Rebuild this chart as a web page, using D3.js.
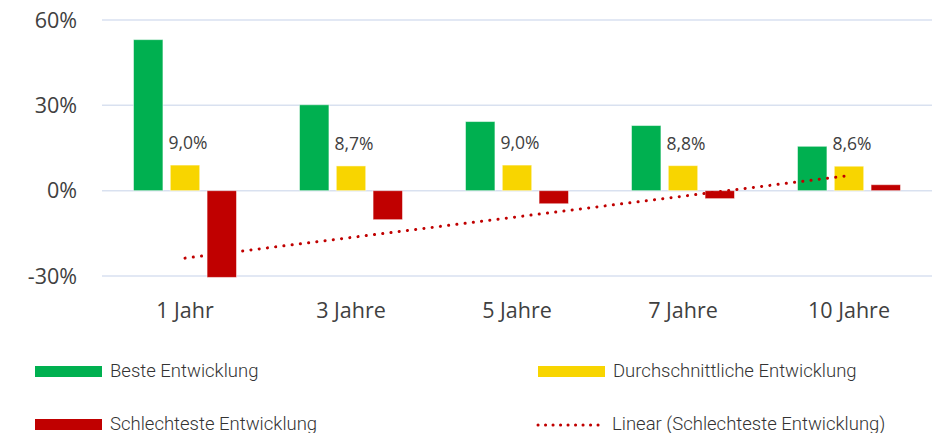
<!DOCTYPE html>
<html lang="de">
<head>
<meta charset="UTF-8">
<title>Entwicklung</title>
<script src="https://d3js.org/d3.v7.min.js"></script>
<style>
  body { margin: 0; background: #fff; }
  svg { display: block; }
</style>
</head>
<body>
<div id="chart"></div>
<script>
const categories = ["1 Jahr", "3 Jahre", "5 Jahre", "7 Jahre", "10 Jahre"];
const best = [53.1, 30.2, 24.3, 22.9, 15.6];
const average = [9.0, 8.7, 9.0, 8.8, 8.6];
const worst = [-30.5, -10.2, -4.6, -2.8, 2.1];
const yTicks = [-30, 0, 30, 60];
const seriesNames = ["Beste Entwicklung", "Durchschnittliche Entwicklung", "Schlechteste Entwicklung"];
const colors = ["#00b050", "#f8d500", "#c00000"];

const width = 943, height = 433;
const svg = d3.select("#chart").append("svg")
  .attr("width", width).attr("height", height);

const x = d3.scaleBand().domain(categories).range([102, 932]);
const y = d3.scaleLinear().domain([-30, 60]).range([276, 20]);

// gridlines
svg.append("g").selectAll("line").data(yTicks).join("line")
  .attr("x1", 102).attr("x2", 932)
  .attr("y1", d => y(d)).attr("y2", d => y(d))
  .attr("stroke", "#d9e1f0").attr("stroke-width", 1.5);

// y labels
svg.append("g").selectAll("text").data(yTicks).join("text")
  .attr("x", 77).attr("y", d => y(d)).attr("dy", "0.35em")
  .attr("text-anchor", "end")
  .style("font", "21.5px 'Open Sans', sans-serif").attr("fill", "#404040")
  .text(d => d + "%");

// category labels
svg.append("g").selectAll("text").data(categories).join("text")
  .attr("x", d => x(d) + x.bandwidth() / 2).attr("y", 310).attr("dy", "0.35em")
  .attr("text-anchor", "middle")
  .style("font", "21.5px 'Open Sans', sans-serif").attr("fill", "#404040")
  .text(d => d);

// bars
const inner = d3.scaleBand().domain([0, 1, 2]).range([0, 103]).paddingInner(0.2);
const series = [best, average, worst];
series.forEach((vals, s) => {
  svg.append("g").selectAll("rect").data(vals).join("rect")
    .attr("x", (d, i) => x(categories[i]) + (x.bandwidth() - 103) / 2 + inner(s))
    .attr("width", inner.bandwidth())
    .attr("y", d => y(Math.max(0, d)))
    .attr("height", d => Math.abs(y(d) - y(0)))
    .attr("fill", colors[s])
    .attr("stroke", "#ffffff").attr("stroke-opacity", 0.5).attr("stroke-width", 1);
});

// labels for average
svg.append("g").selectAll("text").data(average).join("text")
  .attr("x", (d, i) => x(categories[i]) + (x.bandwidth() - 103) / 2 + inner(1) + inner.bandwidth() / 2 + 3)
  .attr("y", d => y(d) - 16)
  .attr("text-anchor", "middle")
  .style("font", "17.5px 'Open Sans', sans-serif").attr("fill", "#404040")
  .text(d => d.toFixed(1).replace(".", ",") + "%");

// linear trend of worst
const idx = worst.map((d, i) => i + 1);
const mx = d3.mean(idx), my = d3.mean(worst);
const slope = d3.sum(idx, (k, i) => (k - mx) * (worst[i] - my)) / d3.sum(idx, k => (k - mx) ** 2);
const icpt = my - slope * mx;
const trend = categories.map((c, i) => ({c, v: icpt + slope * (i + 1)}));
svg.append("path").datum(trend)
  .attr("d", d3.line().x(d => x(d.c) + x.bandwidth() / 2).y(d => y(d.v)))
  .attr("fill", "none").attr("stroke", "#c00000").attr("stroke-width", 3)
  .attr("stroke-dasharray", "0.1 8.2").attr("stroke-linecap", "round");

// legend
const legend = [
  {name: seriesNames[0], color: colors[0], x: 35, y: 371, type: "rect"},
  {name: seriesNames[1], color: colors[1], x: 538, y: 371, type: "rect"},
  {name: seriesNames[2], color: colors[2], x: 35, y: 424, type: "rect"},
  {name: "Linear (Schlechteste Entwicklung)", color: colors[2], x: 537, y: 424, type: "line"}
];
const lg = svg.append("g").selectAll("g").data(legend).join("g")
  .attr("transform", d => `translate(${d.x},${d.y})`);
lg.filter(d => d.type === "rect").append("rect")
  .attr("x", 0).attr("y", -5).attr("width", 67).attr("height", 11)
  .attr("fill", d => d.color);
lg.filter(d => d.type === "line").append("line")
  .attr("x1", 1).attr("x2", 68).attr("y1", 1).attr("y2", 1)
  .attr("stroke", d => d.color).attr("stroke-width", 3)
  .attr("stroke-dasharray", "0.1 7.4").attr("stroke-linecap", "round");
lg.append("text")
  .attr("x", 75).attr("dy", "0.35em")
  .style("font", "300 18.5px Roboto, sans-serif").attr("fill", "#333")
  .text(d => d.name);
</script>
</body>
</html>
